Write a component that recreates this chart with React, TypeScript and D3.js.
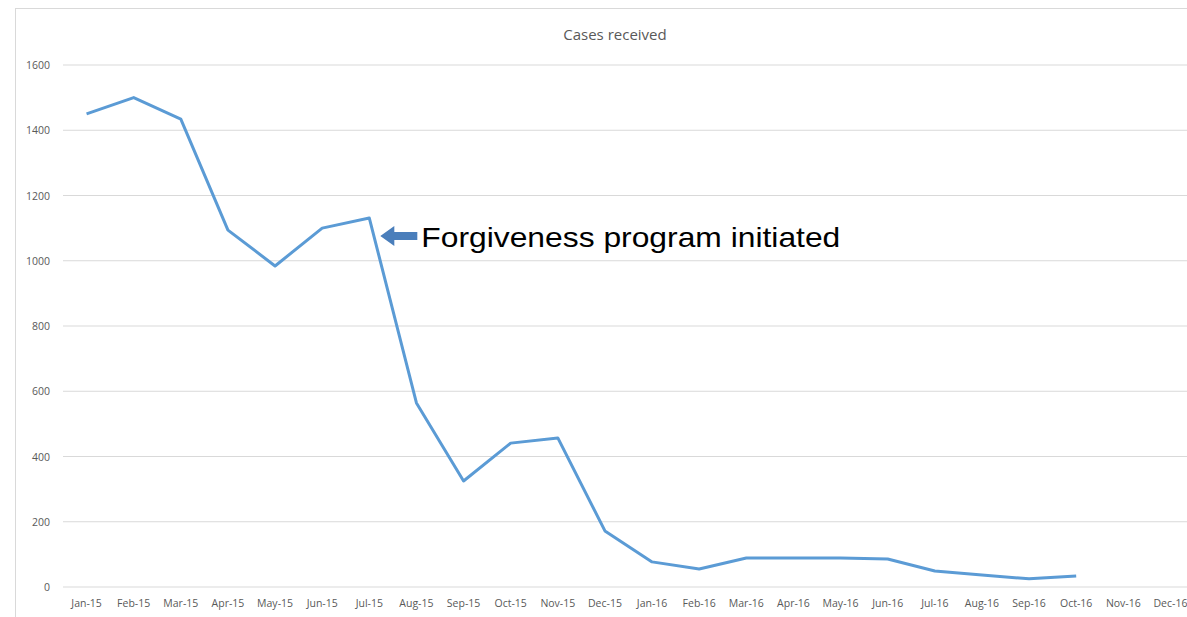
import React from "react";
import * as d3 from "d3";

const months = ["Jan-15","Feb-15","Mar-15","Apr-15","May-15","Jun-15","Jul-15","Aug-15","Sep-15","Oct-15","Nov-15","Dec-15","Jan-16","Feb-16","Mar-16","Apr-16","May-16","Jun-16","Jul-16","Aug-16","Sep-16","Oct-16","Nov-16","Dec-16"];
const cases: (number | null)[] = [1450,1500,1434,1094,984,1100,1131,564,325,441,457,172,77,55,89,89,89,86,49,37,25,34,null,null];
const yTicks = [0,200,400,600,800,1000,1200,1400,1600];
const title = "Cases received";
const annotation = "Forgiveness program initiated";
const annotatedMonth = "Jul-15";

export default function App() {
  const W = 1187, H = 617;
  const left = 63, right = 1194, top = 65, bottom = 587;
  const x = d3.scaleBand<string>().domain(months).range([left, right]);
  const y = d3.scaleLinear().domain([0, 1600]).range([bottom, top]);
  const cx = (m: string) => (x(m) as number) + x.bandwidth() / 2;
  const line = d3.line<number | null>()
    .defined((d) => d !== null)
    .x((_, i) => cx(months[i]))
    .y((d) => y(d as number));
  const ai = months.indexOf(annotatedMonth);
  const ax = cx(annotatedMonth) + 11;
  const ay = y(cases[ai] as number) + 18;
  return (
    <svg width={W} height={H} style={{ position: "absolute", left: 0, top: 0, background: "#fff" }}>
      <rect x={15.5} y={8.5} width={1200} height={620} fill="#fff" stroke="#d9d9d9" />
      {yTicks.map((t) => (
        <g key={t}>
          <line x1={left} x2={right} y1={y(t)} y2={y(t)} stroke="#d9d9d9" strokeWidth={1} />
          <text x={50} y={y(t) + 4} textAnchor="end" fontFamily="'Open Sans', Calibri, sans-serif" fontSize={10.5} fill="#595959">{t}</text>
        </g>
      ))}
      {months.map((m) => (
        <text key={m} x={cx(m)} y={607} textAnchor="middle" fontFamily="'Open Sans', Calibri, sans-serif" fontSize={10.5} fill="#595959">{m}</text>
      ))}
      <text x={615} y={40} textAnchor="middle" fontFamily="'Open Sans', Calibri, sans-serif" fontSize={15} fill="#595959">{title}</text>
      <path d={line(cases) || ""} fill="none" stroke="#5B9BD5" strokeWidth={3} strokeLinejoin="round" />
      <rect x={ax + 20} y={ay - 25} width={515} height={34} fill="#fff" />
      <polygon points={`${ax},${ay} ${ax + 14},${ay - 10} ${ax + 14},${ay - 4} ${ax + 37},${ay - 4} ${ax + 37},${ay + 4} ${ax + 14},${ay + 4} ${ax + 14},${ay + 10}`} fill="#4A7EBB" />
      <text x={ax + 41} y={ay + 11} fontFamily="'Liberation Sans', Arial, sans-serif" fontSize={28} textLength={419} lengthAdjust="spacingAndGlyphs" fill="#000">{annotation}</text>
    </svg>
  );
}
